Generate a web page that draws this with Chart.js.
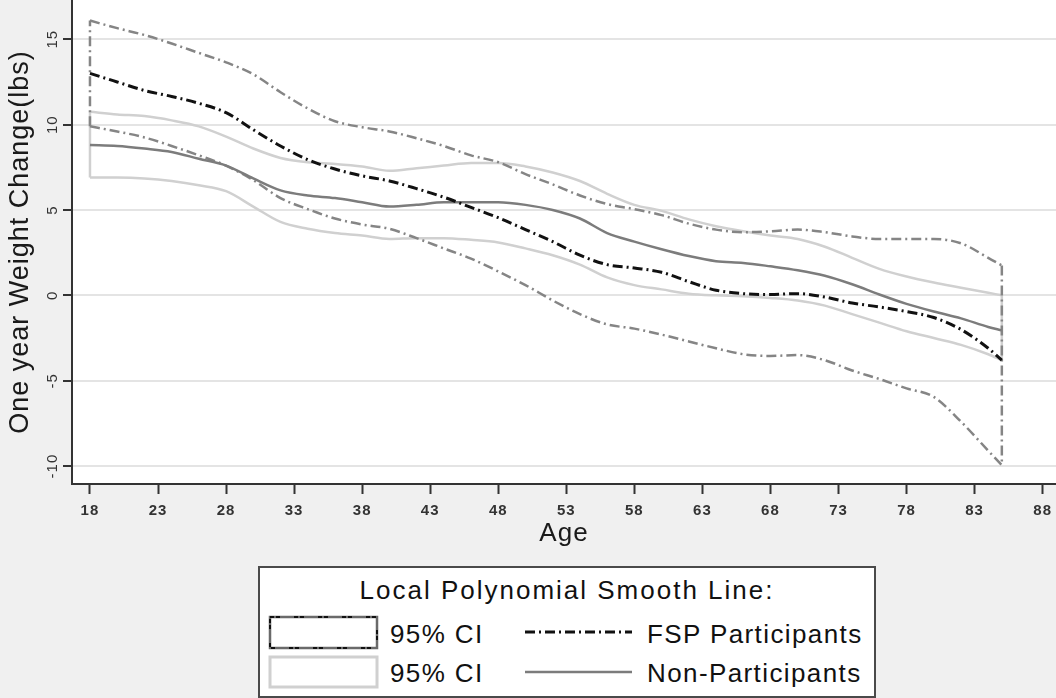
<!DOCTYPE html>
<html>
<head>
<meta charset="utf-8">
<script src="https://cdn.jsdelivr.net/npm/chart.js@4.4.1/dist/chart.umd.min.js"></script>
<style>
  html, body { margin: 0; padding: 0; background: #f0f0f0; }
  #wrap { position: relative; width: 1056px; height: 698px; overflow: hidden; font-family: "Liberation Sans", Arial, sans-serif; }
  #chart { position: absolute; left: 0; top: 0; }
  #legend { position: absolute; left: 258px; top: 566px; width: 618px; height: 132px; box-sizing: border-box; border: 2px solid #4a4a4a; background: #fff; }
  #legend .t { position: absolute; font-size: 26px; line-height: 26px; color: #111; white-space: nowrap; letter-spacing: 1.4px; }
  #legend svg { position: absolute; left: 0; top: 0; }
</style>
</head>
<body>
<div id="wrap">
  <canvas id="chart" width="1056" height="698"></canvas>
  <div id="legend"></div>
</div>
<script>
// ages sampled along the smooth lines
const AGES = [18, 20, 22, 24, 26, 28, 30, 32, 34, 36, 38, 40, 42, 44, 46, 48, 50, 52, 54, 56,
              58, 60, 62, 64, 66, 68, 70, 72, 74, 76, 78, 80, 82, 84, 85];

// FSP participants: estimate + 95% CI
const FSP_EST   = [13.0, 12.5, 12.0, 11.65, 11.25, 10.7, 9.7, 8.75, 7.95, 7.4, 7.0, 6.7, 6.25, 5.75, 5.15, 4.55, 3.85, 3.15, 2.35, 1.8,
                   1.6, 1.35, 0.8, 0.3, 0.1, 0.05, 0.1, -0.1, -0.45, -0.68, -0.95, -1.3, -2.0, -3.1, -3.8];
const FSP_UPPER = [16.1, 15.65, 15.25, 14.75, 14.2, 13.65, 12.95, 11.9, 10.95, 10.2, 9.85, 9.6, 9.2, 8.75, 8.2, 7.8, 7.1, 6.5, 5.85, 5.35,
                   5.05, 4.7, 4.2, 3.85, 3.7, 3.75, 3.85, 3.7, 3.45, 3.3, 3.3, 3.3, 3.05, 2.2, 1.75];
const FSP_LOWER = [9.9, 9.6, 9.25, 8.75, 8.2, 7.6, 6.75, 5.7, 5.05, 4.5, 4.15, 3.9, 3.35, 2.75, 2.15, 1.4, 0.6, -0.3, -1.1, -1.7,
                   -1.95, -2.3, -2.7, -3.1, -3.45, -3.55, -3.5, -3.8, -4.4, -4.9, -5.45, -5.95, -7.4, -9.1, -9.95];

// Non-participants: estimate + 95% CI
const NON_EST   = [8.8, 8.75, 8.6, 8.4, 8.0, 7.6, 6.85, 6.15, 5.85, 5.7, 5.45, 5.2, 5.3, 5.45, 5.45, 5.45, 5.3, 5.0, 4.5, 3.65,
                   3.15, 2.7, 2.3, 2.0, 1.9, 1.7, 1.47, 1.15, 0.65, 0.05, -0.5, -0.95, -1.35, -1.85, -2.05];
const NON_UPPER = [10.75, 10.6, 10.5, 10.25, 9.9, 9.3, 8.6, 8.05, 7.8, 7.7, 7.55, 7.3, 7.45, 7.6, 7.75, 7.75, 7.55, 7.2, 6.7, 5.95,
                   5.3, 4.95, 4.45, 4.05, 3.75, 3.5, 3.3, 2.85, 2.2, 1.55, 1.1, 0.75, 0.45, 0.15, 0];
const NON_LOWER = [6.9, 6.9, 6.85, 6.7, 6.45, 6.1, 5.2, 4.3, 3.9, 3.65, 3.5, 3.3, 3.35, 3.35, 3.25, 3.1, 2.75, 2.35, 1.8, 1.05,
                   0.6, 0.35, 0.1, 0, -0.05, -0.15, -0.3, -0.6, -1.1, -1.6, -2.1, -2.5, -2.9, -3.45, -3.8];

const X_TICKS = [18, 23, 28, 33, 38, 43, 48, 53, 58, 63, 68, 73, 78, 83, 88];
const Y_TICKS = [-10, -5, 0, 5, 10, 15];

const LEGEND_TITLE = 'Local Polynomial Smooth Line:';
const LEGEND_CI = ['95% CI', '95% CI'];
const LEGEND_LINES = ['FSP Participants', 'Non-Participants'];

const FONT = '"Liberation Sans", Arial, sans-serif';
const DASH_DOT = [10, 4, 2, 4];
const FSP_CI_COLOR = '#858585';
const NON_CI_COLOR = '#d0d0d0';

const pts = ys => AGES.map((a, i) => ({ x: a, y: ys[i] }));
// the CI outlines are closed at both ends by a vertical segment
const edges = (lo, up) => {
  const n = AGES.length - 1;
  return [
    { x: AGES[0], y: lo[0] }, { x: AGES[0], y: up[0] },
    { x: AGES[0], y: null },
    { x: AGES[n], y: up[n] }, { x: AGES[n], y: lo[n] }
  ];
};

const curve = (data, color, width, dash) => ({
  data: data, borderColor: color, borderWidth: width, borderDash: dash,
  pointRadius: 0, fill: false, cubicInterpolationMode: 'monotone'
});
const edge = (data, color, width, dash) => ({
  data: data, borderColor: color, borderWidth: width, borderDash: dash,
  pointRadius: 0, fill: false, tension: 0, spanGaps: false
});

// first dataset is drawn on top
const datasets = [
  curve(pts(FSP_EST), '#111111', 3, DASH_DOT),
  curve(pts(NON_EST), '#7c7c7c', 2.5, []),
  curve(pts(FSP_UPPER), FSP_CI_COLOR, 2.5, DASH_DOT),
  curve(pts(FSP_LOWER), FSP_CI_COLOR, 2.5, DASH_DOT),
  edge(edges(FSP_LOWER, FSP_UPPER), FSP_CI_COLOR, 2.5, DASH_DOT),
  curve(pts(NON_UPPER), NON_CI_COLOR, 2.5, []),
  curve(pts(NON_LOWER), NON_CI_COLOR, 2.5, []),
  edge(edges(NON_LOWER, NON_UPPER), NON_CI_COLOR, 2.5, [])
];

// white plot area + slightly looser text like the original export
const plotBackground = {
  id: 'plotBackground',
  beforeDraw(chart) {
    const { ctx, chartArea: a } = chart;
    ctx.save();
    ctx.fillStyle = '#ffffff';
    ctx.fillRect(a.left, a.top, a.right - a.left, a.bottom - a.top);
    ctx.restore();
    ctx.letterSpacing = '1px';
  },
  afterDraw(chart) {
    chart.ctx.letterSpacing = '0px';
  }
};

Chart.defaults.font.family = FONT;

new Chart(document.getElementById('chart'), {
  type: 'line',
  data: { datasets: datasets },
  plugins: [plotBackground],
  options: {
    responsive: false,
    animation: false,
    events: [],
    layout: { padding: { top: 0, right: 0, bottom: 138, left: 0 } },
    plugins: { legend: { display: false }, tooltip: { enabled: false } },
    scales: {
      x: {
        type: 'linear', min: 16.68, max: 88.98,
        afterBuildTicks: s => { s.ticks = X_TICKS.map(v => ({ value: v })); },
        afterFit: s => { s.height = 76; s.paddingLeft = 0; s.paddingRight = 0; },
        grid: { drawOnChartArea: false, drawTicks: true, tickLength: 10, tickColor: '#333', tickWidth: 2 },
        border: { color: '#333', width: 2 },
        ticks: { autoSkip: false, maxRotation: 0, padding: 8, color: '#333', font: { size: 15, weight: 'bold' } },
        title: { display: true, text: 'Age', color: '#1a1a1a', font: { size: 26 }, padding: { top: 0, bottom: 11 } }
      },
      y: {
        type: 'linear', min: -11.05, max: 17.3,
        afterBuildTicks: s => { s.ticks = Y_TICKS.map(v => ({ value: v })); },
        afterFit: s => { s.width = 72; s.paddingTop = 0; s.paddingBottom = 0; },
        grid: { color: '#e4e4e4', lineWidth: 2, drawTicks: true, tickLength: 9, tickColor: '#333', tickWidth: 2 },
        border: { color: '#333', width: 2 },
        ticks: { minRotation: 90, maxRotation: 90, crossAlign: 'center', padding: -1, color: '#333', font: { size: 15 } },
        title: { display: true, text: 'One year Weight Change(lbs)', color: '#1a1a1a', font: { size: 27 }, padding: { top: 4, bottom: 0 } }
      }
    }
  }
});

// legend box below the plot
const legend = document.getElementById('legend');
const addText = (txt, left, top, extra) => {
  const d = document.createElement('div');
  d.className = 't';
  d.textContent = txt;
  d.style.left = left + 'px';
  d.style.top = top + 'px';
  Object.assign(d.style, extra || {});
  legend.appendChild(d);
};
addText(LEGEND_TITLE, 0, 9, { width: '614px', textAlign: 'center', letterSpacing: '2px' });
const rowTops = [53, 92];
rowTops.forEach((t, i) => {
  addText(LEGEND_CI[i], 130, t);
  addText(LEGEND_LINES[i], 387, t);
});

const svgNS = 'http://www.w3.org/2000/svg';
const svg = document.createElementNS(svgNS, 'svg');
svg.setAttribute('width', '614');
svg.setAttribute('height', '128');
const el = (name, attrs) => {
  const e = document.createElementNS(svgNS, name);
  for (const k in attrs) e.setAttribute(k, attrs[k]);
  svg.appendChild(e);
};
el('rect', { x: 10, y: 49, width: 107, height: 31, fill: '#fff', stroke: '#6a6a6a', 'stroke-width': 2.5 });
el('rect', { x: 10, y: 49, width: 107, height: 31, fill: 'none', stroke: '#111', 'stroke-width': 2, 'stroke-dasharray': '4 2 4 14' });
el('rect', { x: 10, y: 89, width: 107, height: 30, fill: '#fff', stroke: NON_CI_COLOR, 'stroke-width': 3 });
el('line', { x1: 265, y1: 64, x2: 372, y2: 64, stroke: '#111', 'stroke-width': 3, 'stroke-dasharray': DASH_DOT.join(' ') });
el('line', { x1: 265, y1: 104, x2: 372, y2: 104, stroke: '#7c7c7c', 'stroke-width': 2.5 });
legend.appendChild(svg);
</script>
</body>
</html>
